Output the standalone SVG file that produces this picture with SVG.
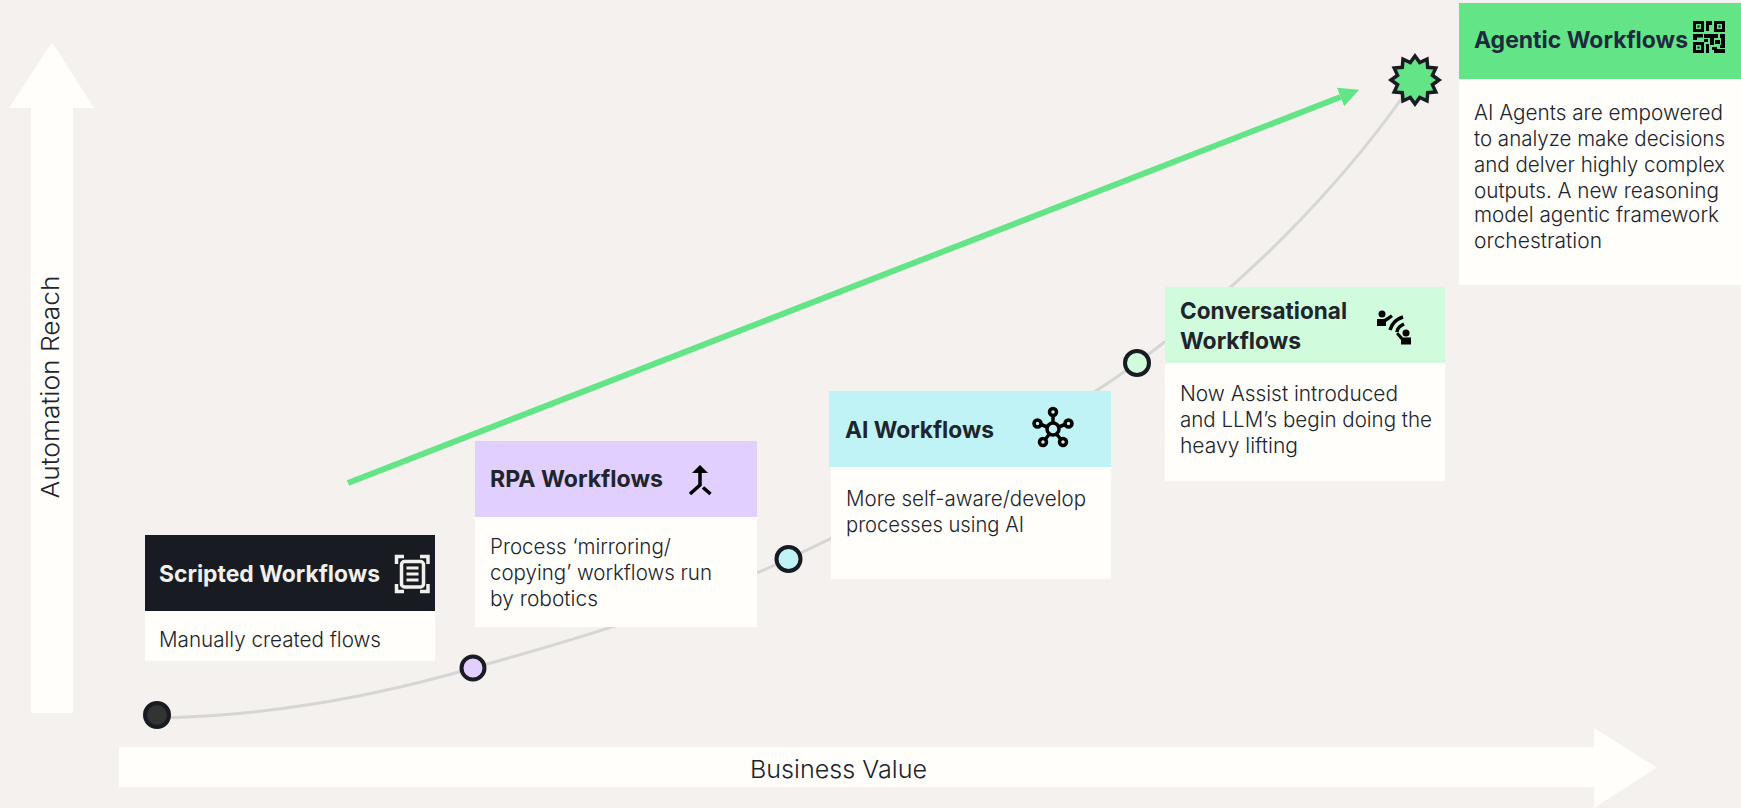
<svg xmlns="http://www.w3.org/2000/svg" width="1741" height="808" viewBox="0 0 1741 808">
<style>
text{font-family:Inter,"Liberation Sans",sans-serif;fill:#20242c}
.t{font-size:23.500px;font-weight:650}
.b{font-size:21px;font-weight:350}
.ax{font-size:24.500px;font-weight:350}
.body{fill:#fffefb}
.dot{stroke:#181c22;stroke-width:4}
.ic{fill:none;stroke:#000;stroke-width:3.5}
</style>
<defs>
<marker id="ah" markerUnits="userSpaceOnUse" markerWidth="22" markerHeight="22" refX="0" refY="10" orient="auto"><path d="M0,0L20,10L0,20Z" fill="#63e587"/></marker>
</defs>
<rect width="1741" height="808" fill="#f4f1ef"/>
<g id="axes">
<path id="axis-y" class="body" d="M52,42L94,108H73V713H31V108H9Z"/>
<path id="axis-x" class="body" d="M119,747H1594V728L1657,767.5L1594,808V787H119Z"/>
<text class="ax" x="750" y="778" textLength="177" lengthAdjust="spacingAndGlyphs">Business Value</text>
<text class="ax" transform="translate(59,498.500) rotate(-90)" textLength="223" lengthAdjust="spacingAndGlyphs">Automation Reach</text>
</g>
<g id="connectors">
<path d="M157,718C270,716 380,695 473,668C585,637 690,605 788,559C920,497 1040,432 1137,363C1250,280 1340,185 1402,98" fill="none" stroke="#d6d6d4" stroke-width="3"/>
<line x1="348" y1="483" x2="1340.500" y2="97" stroke="#63e587" stroke-width="6" marker-end="url(#ah)"/>
</g>
<g id="dot-scripted"><circle class="dot" cx="157" cy="715" r="12" fill="#333"/></g>
<g id="dot-rpa"><circle class="dot" cx="473" cy="668" r="11.500" fill="#e0cfff"/></g>
<g id="dot-ai"><circle class="dot" cx="788.500" cy="559" r="12" fill="#c0f3f5"/></g>
<g id="dot-conv"><circle class="dot" cx="1137" cy="363" r="12" fill="#d0fcdd"/></g>
<g id="dot-agentic"><polygon points="1415,56 1419.700,62.600 1427,59.200 1427.700,67.300 1435.800,68 1432.400,75.300 1439,80 1432.400,84.700 1435.800,92 1427.700,92.700 1427,100.800 1419.700,97.400 1415,104 1410.300,97.400 1403,100.800 1402.300,92.700 1394.200,92 1397.600,84.700 1391,80 1397.600,75.300 1394.200,68 1402.300,67.300 1403,59.200 1410.300,62.600" fill="#63e587" stroke="#181c22" stroke-width="3.500"/></g>

<g id="node-scripted">
<rect class="body" x="145" y="611" width="290" height="50"/>
<rect x="145" y="535" width="290" height="76" fill="#181c22"/>
<text class="t" x="159" y="582" textLength="221" lengthAdjust="spacingAndGlyphs" style="fill:#f2f0ec">Scripted Workflows</text>
<text class="b" x="159" y="647" textLength="222" lengthAdjust="spacingAndGlyphs">Manually created flows</text>
<g fill="none" stroke="#f2f0ec" stroke-width="3.500">
<path d="M396.500,564V556.500H404M420,556.500H428V564M428,584V591.500H420M404,591.500H396.500V584"/>
<rect x="401.500" y="561.500" width="22" height="25.500" rx="3"/>
<path d="M406.500,568H418.500M406.500,574H418.500M406.500,580H418.500" stroke-width="3"/>
</g>
</g>

<g id="node-rpa">
<rect class="body" x="475" y="517" width="282" height="110"/>
<rect x="475" y="441" width="282" height="76" fill="#e0cfff"/>
<text class="t" x="490" y="487" textLength="173" lengthAdjust="spacingAndGlyphs">RPA Workflows</text>
<text class="b" x="490" y="554" textLength="181" lengthAdjust="spacingAndGlyphs">Process ‘mirroring/</text>
<text class="b" x="490" y="580" textLength="222" lengthAdjust="spacingAndGlyphs">copying’ workflows run</text>
<text class="b" x="490" y="606" textLength="108" lengthAdjust="spacingAndGlyphs">by robotics</text>
<path d="M700,465L708,473H692Z" fill="#000"/>
<path class="ic" d="M700,471V485L690,494M703,487.500L710.500,494"/>
</g>

<g id="node-ai">
<rect class="body" x="831" y="467" width="280" height="112"/>
<rect x="829" y="391" width="282" height="76" fill="#c0f3f5"/>
<text class="t" x="845" y="438" textLength="149" lengthAdjust="spacingAndGlyphs">AI Workflows</text>
<text class="b" x="846" y="506" textLength="240" lengthAdjust="spacingAndGlyphs">More self-aware/develop</text>
<text class="b" x="846" y="532" textLength="178" lengthAdjust="spacingAndGlyphs">processes using AI</text>
<g class="ic">
<circle cx="1053" cy="429" r="6"/>
<circle cx="1053" cy="412" r="3.500"/><circle cx="1037.500" cy="423.500" r="3.500"/><circle cx="1068.500" cy="423.500" r="3.500"/><circle cx="1043" cy="442" r="3.500"/><circle cx="1063" cy="442" r="3.500"/>
<path d="M1053,415.500V423M1041,424.500L1047.500,427M1065,424.500L1058.500,427M1045.500,439L1049.500,434M1060.500,439L1056.500,434"/>
</g>
</g>

<g id="node-conversational">
<rect class="body" x="1165" y="363" width="280" height="118"/>
<rect x="1165" y="287" width="280" height="76" fill="#d0fcdd"/>
<text class="t" x="1180" y="319" textLength="167" lengthAdjust="spacingAndGlyphs">Conversational</text>
<text class="t" x="1180" y="349" textLength="121" lengthAdjust="spacingAndGlyphs">Workflows</text>
<text class="b" x="1180" y="401" textLength="218" lengthAdjust="spacingAndGlyphs">Now Assist introduced</text>
<text class="b" x="1180" y="427" textLength="252" lengthAdjust="spacingAndGlyphs">and LLM’s begin doing the</text>
<text class="b" x="1180" y="453" textLength="118" lengthAdjust="spacingAndGlyphs">heavy lifting</text>
<circle cx="1382" cy="314" r="3.500"/>
<path d="M1377,319H1384L1391,314.500L1393,317L1386,322V326H1377Z"/>
<circle cx="1406" cy="333" r="3.500"/>
<path d="M1398,332L1403,337.500H1411V344.500H1401V340L1396,334Z"/>
<path class="ic" d="M1403,317C1396,319 1392,323 1390,330M1404,324C1400,326 1397,329 1397,332" stroke-width="3"/>
</g>

<g id="node-agentic">
<rect class="body" x="1459" y="3" width="282" height="282"/>
<rect x="1459" y="3" width="282" height="76" fill="#63e587"/>
<text class="t" x="1474" y="48" textLength="214" lengthAdjust="spacingAndGlyphs" style="fill:#1f2a3e">Agentic Workflows</text>
<text class="b" x="1474" y="120" textLength="249" lengthAdjust="spacingAndGlyphs">AI Agents are empowered</text>
<text class="b" x="1474" y="146" textLength="251" lengthAdjust="spacingAndGlyphs">to analyze make decisions</text>
<text class="b" x="1474" y="172" textLength="251" lengthAdjust="spacingAndGlyphs">and delver highly complex</text>
<text class="b" x="1474" y="198" textLength="245" lengthAdjust="spacingAndGlyphs">outputs. A new reasoning</text>
<text class="b" x="1474" y="222" textLength="245" lengthAdjust="spacingAndGlyphs">model agentic framework</text>
<text class="b" x="1474" y="248" textLength="128" lengthAdjust="spacingAndGlyphs">orchestration</text>
<path fill-rule="evenodd" d="M1693,21H1704V32H1693ZM1696,24V29H1701V24ZM1714,21H1725V32H1714ZM1717,24V29H1722V24ZM1693,42H1704V53H1693ZM1696,45V50H1701V45Z"/>
<path d="M1697.500,25.500H1699.500V27.500H1697.500ZM1718.500,25.500H1720.500V27.500H1718.500ZM1697.500,46.500H1699.500V48.500H1697.500ZM1706,21H1712V25H1709V31H1706ZM1693,34H1703V37.500H1697V40H1693ZM1704,34H1718V38H1714V45H1710V38H1704ZM1720,34H1725V45H1721V38H1720ZM1704,39H1708V42H1704ZM1715,40H1720V44H1715ZM1706,44H1709V53H1706ZM1712,47H1717V49H1725V53H1714V50H1712ZM1720,45H1725V48H1720Z"/>
</g>
</svg>
